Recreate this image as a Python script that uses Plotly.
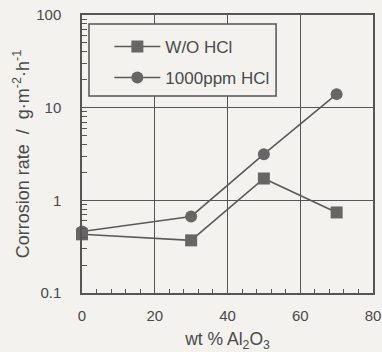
import plotly.graph_objects as go

# Data
al2o3_wt = [0, 30, 50, 70]
rate_wo_hcl = [0.43, 0.37, 1.72, 0.74]
rate_1000ppm_hcl = [0.46, 0.67, 3.15, 14.0]
series_names = ["W/O HCl", "1000ppm HCl"]

y_tickvals = [0.1, 1, 10, 100]
y_ticktext = ["0.1", "1", "10", "100"]
x_tickvals = [0, 20, 40, 60, 80]

INK = "#4a4a4a"
BG = "#f3f2ee"
FONT = "Liberation Sans, Arial, sans-serif"

y_minor = [m * d for d in (0.1, 1, 10) for m in range(2, 10)]
x_minor = [v for v in range(4, 80, 4) if v % 20 != 0]

fig = go.Figure()
fig.add_trace(go.Scatter(
    x=al2o3_wt, y=rate_wo_hcl, name=series_names[0], mode="lines+markers",
    line=dict(color="#5a5a5a", width=1.6),
    marker=dict(symbol="square", size=12, color="#666666"),
    cliponaxis=False, legendgroup="a",
))
fig.add_trace(go.Scatter(
    x=al2o3_wt, y=rate_1000ppm_hcl, name=series_names[1], mode="lines+markers",
    line=dict(color="#5a5a5a", width=1.6),
    marker=dict(symbol="circle", size=12, color="#666666"),
    cliponaxis=False, legendgroup="b",
))

# legend frame (opaque box, hides the grid behind the legend)
fig.add_shape(type="rect", xref="paper", yref="paper",
              x0=0.024, x1=0.667, y0=0.709, y1=0.968,
              line=dict(color="#555555", width=1.5), fillcolor=BG, layer="above")

fig.update_layout(
    width=382, height=352,
    margin=dict(l=82, r=9, t=15, b=59),
    paper_bgcolor=BG, plot_bgcolor=BG,
    font=dict(family=FONT, color=INK, size=15),
    showlegend=True,
    legend=dict(
        x=0.094, y=0.950, xanchor="left", yanchor="top",
        bgcolor="rgba(0,0,0,0)", borderwidth=0,
        font=dict(size=17, color=INK), itemwidth=46,
        tracegroupgap=6, traceorder="grouped",
    ),
)
fig.update_xaxes(
    range=[0, 80], tickmode="array", tickvals=x_tickvals,
    showgrid=True, gridcolor="#555555", gridwidth=1,
    showline=True, linecolor="#555555", linewidth=1.5, mirror=True,
    ticks="", ticklabelstandoff=8, zeroline=False, automargin=False,
    tickfont=dict(size=15),
    minor=dict(tickmode="array", tickvals=x_minor, ticks="inside", ticklen=4,
               tickcolor="#555555", showgrid=False),
    title=dict(text="wt % Al<sub>2</sub>O<sub>3</sub>", font=dict(size=17.5), standoff=14),
)
fig.update_yaxes(
    type="log", range=[-1, 2], tickmode="array", tickvals=y_tickvals, ticktext=y_ticktext,
    showgrid=True, gridcolor="#555555", gridwidth=1,
    showline=True, linecolor="#555555", linewidth=1.5, mirror=True,
    ticks="", ticklabelstandoff=16, zeroline=False, automargin=False,
    tickfont=dict(size=15),
    minor=dict(tickmode="array", tickvals=y_minor, ticks="inside", ticklen=5,
               tickcolor="#555555", showgrid=False),
    title=dict(text="Corrosion rate\u00a0\u00a0/\u00a0\u00a0g\u00b7m<sup>-2</sup>\u00b7h<sup>-1</sup>"
                    + "\u00a0" * 14,
               font=dict(size=18), standoff=2),
)

fig.write_html("out.html", config={"displayModeBar": False},
               post_script="document.body.style.margin='0';")
